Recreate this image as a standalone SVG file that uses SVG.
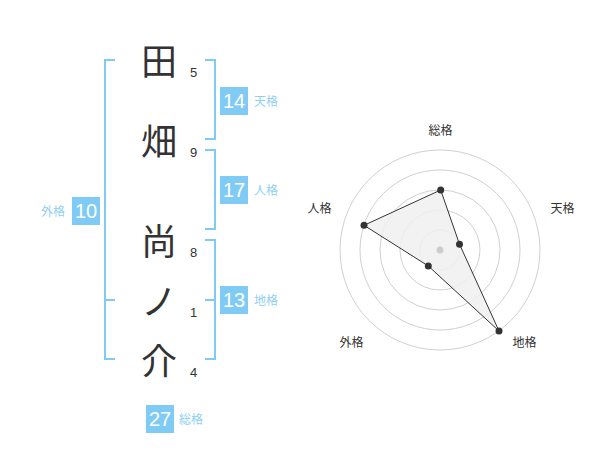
<svg xmlns="http://www.w3.org/2000/svg" width="600" height="470" viewBox="0 0 600 470">
<style>
.kanji{font-family:"Noto Sans CJK JP","Noto Sans CJK SC",sans-serif;font-size:36px;fill:#333;text-anchor:middle}
.num{font-family:"Liberation Sans",Arial,sans-serif;font-size:13px;fill:#333}
.br{fill:none;stroke:#80cbf5;stroke-width:2}
.box{fill:#80cbf5}
.bnum{font-family:"Liberation Sans",Arial,sans-serif;font-size:20px;fill:#fff;text-anchor:middle}
.lab{font-family:"Noto Sans CJK JP","Noto Sans CJK SC",sans-serif;font-size:12px;fill:#8fcff3}
.rlab{font-family:"Noto Sans CJK JP","Noto Sans CJK SC",sans-serif;font-size:12px;fill:#333;text-anchor:middle}
.ring{fill:none;stroke:#d0d0d0;stroke-width:1}
.dot{fill:#333}
</style>
<rect width="600" height="470" fill="#fff"/>
<g id="name">
<g id="c1"><text class="kanji" x="159" y="75">田</text><text class="num" x="190" y="77">5</text></g>
<g id="c2"><text class="kanji" x="159" y="155">畑</text><text class="num" x="190" y="157">9</text></g>
<g id="c3"><text class="kanji" x="159" y="255">尚</text><text class="num" x="190" y="257">8</text></g>
<g id="c4"><text class="kanji" x="159" y="315">ノ</text><text class="num" x="190" y="317">1</text></g>
<g id="c5"><text class="kanji" x="159" y="375">介</text><text class="num" x="190" y="377">4</text></g>
</g>
<g id="connectors">
<path class="br" d="M115,60 H105 V359 H115 M105,300 H115"/>
<path class="br" d="M205,60 H215 V139 H205"/>
<path class="br" d="M205,150 H215 V229 H205"/>
<path class="br" d="M205,240 H215 V359 H205 M205,300 H215"/>
</g>
<g id="gaikaku"><rect class="box" x="72" y="197" width="28" height="28"/><text class="bnum" x="86" y="218">10</text><text class="lab" x="41" y="215.5">外格</text></g>
<g id="tenkaku"><rect class="box" x="220" y="87" width="28" height="28"/><text class="bnum" x="234" y="108">14</text><text class="lab" x="254" y="105.5">天格</text></g>
<g id="jinkaku"><rect class="box" x="220" y="176" width="28" height="28"/><text class="bnum" x="234" y="197">17</text><text class="lab" x="254" y="194.5">人格</text></g>
<g id="chikaku"><rect class="box" x="220" y="286" width="28" height="28"/><text class="bnum" x="234" y="307">13</text><text class="lab" x="254" y="304.5">地格</text></g>
<g id="soukaku"><rect class="box" x="146" y="405" width="28" height="28"/><text class="bnum" x="160" y="426">27</text><text class="lab" x="179" y="423.5">総格</text></g>
<g id="radar">
<circle class="ring" cx="440" cy="250" r="20"/>
<circle class="ring" cx="440" cy="250" r="40"/>
<circle class="ring" cx="440" cy="250" r="60"/>
<circle class="ring" cx="440" cy="250" r="80"/>
<circle class="ring" cx="440" cy="250" r="100"/>
<polygon points="440.7,190 459.5,244.2 499,331 428.3,266 364,225.3" fill="#f0f0f0" fill-opacity="0.85" stroke="#333" stroke-width="1"/>
<circle cx="440" cy="250" r="3.5" fill="#ccc"/>
<circle class="dot" cx="440.7" cy="190" r="3.5"/>
<circle class="dot" cx="459.5" cy="244.2" r="3.5"/>
<circle class="dot" cx="499" cy="331" r="3.5"/>
<circle class="dot" cx="428.3" cy="266" r="3.5"/>
<circle class="dot" cx="364" cy="225.3" r="3.5"/>
<text class="rlab" x="440.5" y="135">総格</text>
<text class="rlab" x="562.5" y="212.5">天格</text>
<text class="rlab" x="524.5" y="346.5">地格</text>
<text class="rlab" x="351.5" y="346.5">外格</text>
<text class="rlab" x="319.5" y="212.5">人格</text>
</g>
</svg>
